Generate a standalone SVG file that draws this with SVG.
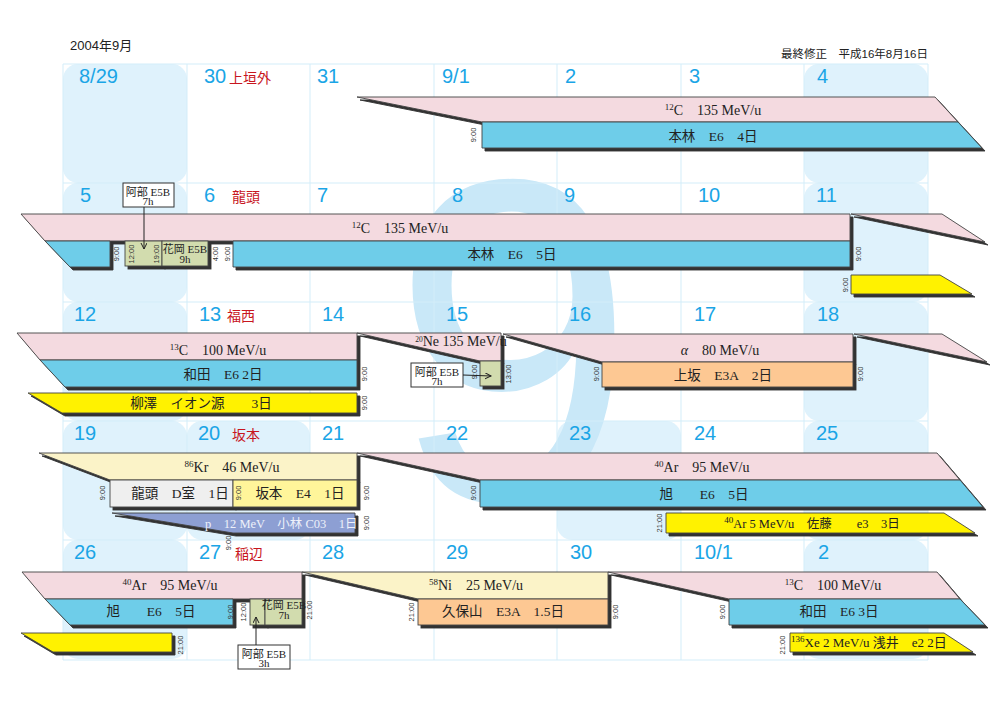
<svg xmlns="http://www.w3.org/2000/svg" width="1000" height="707" viewBox="0 0 1000 707">
<defs>
<filter id="sh" filterUnits="userSpaceOnUse" x="0" y="0" width="1000" height="707">
<feOffset in="SourceAlpha" dx="2.5" dy="2.5" result="o"/>
<feFlood flood-color="#333"/>
<feComposite in2="o" operator="in"/>
<feMerge><feMergeNode/><feMergeNode in="SourceGraphic"/></feMerge>
</filter>
<marker id="ah" markerWidth="8" markerHeight="8" refX="6" refY="3" orient="auto" markerUnits="userSpaceOnUse">
<path d="M0,0 L6,3 L0,6" fill="none" stroke="#222" stroke-width="1"/>
</marker>
</defs>
<style>
.wk{fill:#dff2fc}
.grid line{stroke:#d3edf9;stroke-width:1}
.day{font-family:"Liberation Sans","DejaVu Sans",sans-serif;font-size:20px;fill:#1aa5e6}
.nm{font-family:"Noto Sans CJK JP",sans-serif;font-size:14px;fill:#c8161e}
.hd{font-family:"Liberation Sans","Noto Sans CJK JP",sans-serif;fill:#222}
.s polygon,.s rect{stroke:#444;stroke-width:0.9}
.pk{fill:#f4dae0}
.bl{fill:#6ecde9}
.or{fill:#fdc893}
.ye{fill:#fff200}
.py{fill:#fbf3c8}
.ly{fill:#fff59a}
.gy{fill:#efefef}
.gr{fill:#d2dcae}
.pp{fill:#8d9fd3}
.bt{font-family:"Liberation Serif","Noto Sans CJK JP",serif;font-size:14px;fill:#222;text-anchor:middle}
.et{font-family:"Liberation Serif","Noto Sans CJK JP",serif;font-size:13.5px;fill:#222;text-anchor:middle}
.sm{font-family:"Liberation Serif","Noto Sans CJK JP",serif;font-size:11px;fill:#222;text-anchor:middle}
.tm{font-family:"Liberation Sans",sans-serif;font-size:7.5px;fill:#333;text-anchor:middle}
.cb{fill:#fff;stroke:#333;stroke-width:1}
.cn line{stroke:#222;stroke-width:1}
</style>
<rect width="1000" height="707" fill="#fff"/>
<g id="weekend-bg">
<rect class="wk" x="63" y="64" width="124" height="119" rx="15"/>
<rect class="wk" x="804" y="64" width="124" height="119" rx="15"/>
<rect class="wk" x="63" y="183" width="124" height="119" rx="15"/>
<rect class="wk" x="804" y="183" width="124" height="119" rx="15"/>
<rect class="wk" x="63" y="302" width="124" height="119" rx="15"/>
<rect class="wk" x="804" y="302" width="124" height="119" rx="15"/>
<rect class="wk" x="63" y="421" width="124" height="119" rx="15"/>
<rect class="wk" x="187" y="421" width="123" height="119" rx="15"/>
<rect class="wk" x="557" y="421" width="124" height="119" rx="15"/>
<rect class="wk" x="804" y="421" width="124" height="119" rx="15"/>
<rect class="wk" x="63" y="540" width="124" height="119" rx="15"/>
<rect class="wk" x="804" y="540" width="124" height="119" rx="15"/>
</g>
<text id="month-watermark" transform="translate(392,500) scale(0.95,1)" x="0" y="0" font-family="Liberation Sans,sans-serif" font-size="460" fill="#c9e8f8">9</text>
<g class="grid">
<line x1="63" y1="64" x2="63" y2="660"/><line x1="187" y1="64" x2="187" y2="660"/><line x1="310" y1="64" x2="310" y2="660"/><line x1="434" y1="64" x2="434" y2="660"/><line x1="557" y1="64" x2="557" y2="660"/><line x1="681" y1="64" x2="681" y2="660"/><line x1="804" y1="64" x2="804" y2="660"/><line x1="928" y1="64" x2="928" y2="660"/>
<line x1="63" y1="64" x2="928" y2="64"/><line x1="63" y1="183" x2="928" y2="183"/><line x1="63" y1="302" x2="928" y2="302"/><line x1="63" y1="421" x2="928" y2="421"/><line x1="63" y1="540" x2="928" y2="540"/><line x1="63" y1="660" x2="928" y2="660"/>
</g>
<g id="header">
<text class="hd" x="70" y="50" font-size="13">2004年9月</text>
<text class="hd" x="781" y="58" font-size="11.5">最終修正　平成16年8月16日</text>
</g>
<g id="days">
<text class="day" x="79" y="83">8/29</text><text class="day" x="204" y="83">30</text><text class="day" x="317" y="83">31</text><text class="day" x="442" y="83">9/1</text><text class="day" x="565" y="83">2</text><text class="day" x="689" y="83">3</text><text class="day" x="817" y="83">4</text>
<text class="day" x="80" y="202">5</text><text class="day" x="204" y="202">6</text><text class="day" x="317" y="202">7</text><text class="day" x="452" y="202">8</text><text class="day" x="564" y="202">9</text><text class="day" x="698" y="202">10</text><text class="day" x="816" y="202">11</text>
<text class="day" x="74" y="321">12</text><text class="day" x="199" y="321">13</text><text class="day" x="322" y="321">14</text><text class="day" x="446" y="321">15</text><text class="day" x="569" y="321">16</text><text class="day" x="694" y="321">17</text><text class="day" x="817" y="321">18</text>
<text class="day" x="74" y="440">19</text><text class="day" x="198" y="440">20</text><text class="day" x="322" y="440">21</text><text class="day" x="446" y="440">22</text><text class="day" x="569" y="440">23</text><text class="day" x="694" y="440">24</text><text class="day" x="816" y="440">25</text>
<text class="day" x="74" y="559">26</text><text class="day" x="199" y="559">27</text><text class="day" x="322" y="559">28</text><text class="day" x="446" y="559">29</text><text class="day" x="570" y="559">30</text><text class="day" x="694" y="559">10/1</text><text class="day" x="818" y="559">2</text>
<text class="nm" x="229" y="83">上垣外</text>
<text class="nm" x="232" y="202">龍頭</text>
<text class="nm" x="227" y="321">福西</text>
<text class="nm" x="232" y="440">坂本</text>
<text class="nm" x="235" y="559">稲辺</text>
</g>

<g id="ev-c12-w1">
<g class="s" filter="url(#sh)">
<polygon class="pk" points="357,97 935,97 958,122 482,122"/>
<polygon class="bl" points="482,122 958,122 982,148 482,148"/>
</g>
<text class="bt" x="713" y="115"><tspan font-size="9" dy="-5">12</tspan><tspan dy="5">C</tspan>　135 MeV/u</text>
<text class="et" x="713" y="141">本林　E6　4日</text>
<text class="tm" transform="translate(473,135) rotate(-90)" dy="2.5">9:00</text>
</g>

<g id="ev-c12-w2">
<g class="s" filter="url(#sh)">
<polygon class="pk" points="21,214 850,214 850,241 45,241"/>
<polygon class="bl" points="45,241 110,241 110,267 70,267"/>
<rect class="gr" x="125" y="241" width="37" height="25"/>
<rect class="gr" x="162" y="241" width="46" height="25"/>
<polygon class="bl" points="233,241 850,241 850,267 233,267"/>
<polygon class="pk" points="851,214 942,214 985,242"/>
<polygon class="ye" points="851,275 940,275 972,294 851,294"/>
</g>
<text class="bt" x="400" y="233"><tspan font-size="9" dy="-5">12</tspan><tspan dy="5">C</tspan>　135 MeV/u</text>
<text class="et" x="512" y="259">本林　E6　5日</text>
<text class="sm" x="185" y="253">花岡 E5B</text>
<text class="sm" x="185" y="263" font-size="10">9h</text>
<text class="tm" transform="translate(116,254) rotate(-90)" dy="2.5">9:00</text>
<text class="tm" transform="translate(131,254) rotate(-90)" dy="2.5">12:00</text>
<text class="tm" transform="translate(156,254) rotate(-90)" dy="2.5">19:00</text>
<text class="tm" transform="translate(215,254) rotate(-90)" dy="2.5">4:00</text>
<text class="tm" transform="translate(227,254) rotate(-90)" dy="2.5">9:00</text>
<text class="tm" transform="translate(858,254) rotate(-90)" dy="2.5">9:00</text>
<text class="tm" transform="translate(845,285) rotate(-90)" dy="2.5">9:00</text>
</g>

<g id="ev-abe-w2">
<rect class="cb" x="123" y="183" width="51" height="24"/>
<text class="sm" x="148" y="196">阿部 E5B</text>
<text class="sm" x="148" y="205" font-size="10">7h</text>
</g>

<g id="ev-c13-w3">
<g class="s" filter="url(#sh)">
<polygon class="pk" points="17,333 357,333 357,360 40,360"/>
<polygon class="bl" points="40,360 357,360 357,387 65,387"/>
<polygon class="ye" points="28,393 357,393 357,413 62,413"/>
</g>
<text class="bt" x="218" y="355"><tspan font-size="9" dy="-5">13</tspan><tspan dy="5">C</tspan>　100 MeV/u</text>
<text class="et" x="223" y="379">和田　E6  2日</text>
<text class="et" x="201" y="408">柳澤　イオン源　　3日</text>
<text class="tm" transform="translate(364,374) rotate(-90)" dy="2.5">9:00</text>
<text class="tm" transform="translate(364,403) rotate(-90)" dy="2.5">9:00</text>
</g>

<g id="ev-ne20-w3">
<g class="s" filter="url(#sh)">
<polygon class="pk" points="357,333 501,333 501,361 480,361"/>
<rect class="gr" x="480" y="361" width="21" height="25"/>
</g>
<text class="bt" x="461" y="346" font-size="11"><tspan font-size="7.5" dy="-4">20</tspan><tspan dy="4">Ne</tspan>  135 MeV/u</text>
<text class="tm" transform="translate(474,372) rotate(-90)" dy="2.5">9:00</text>
<text class="tm" transform="translate(508,374) rotate(-90)" dy="2.5">13:00</text>
</g>

<g id="ev-abe-w3">
<rect class="cb" x="411" y="363" width="52" height="24"/>
<text class="sm" x="437" y="376">阿部 E5B</text>
<text class="sm" x="437" y="385" font-size="10">7h</text>
</g>

<g id="ev-alpha-w3">
<g class="s" filter="url(#sh)">
<polygon class="pk" points="503,334 853,334 853,362 602,362"/>
<rect class="or" x="602" y="362" width="251" height="25"/>
<polygon class="pk" points="854,334 942,334 987,362"/>
</g>
<text class="bt" x="720" y="355" font-size="17"><tspan font-style="italic">α</tspan>　80 MeV/u</text>
<text class="et" x="723" y="380">上坂　E3A　2日</text>
<text class="tm" transform="translate(596,374) rotate(-90)" dy="2.5">9:00</text>
<text class="tm" transform="translate(860,374) rotate(-90)" dy="2.5">9:00</text>
</g>

<g id="ev-kr86-w4">
<g class="s" filter="url(#sh)">
<polygon class="py" points="39,453 357,453 357,480 110,480"/>
<rect class="gy" x="110" y="480" width="123" height="27"/>
<rect class="ly" x="233" y="480" width="124" height="27"/>
</g>
<text class="bt" x="232" y="472"><tspan font-size="9" dy="-5">86</tspan><tspan dy="5">Kr</tspan>　46 MeV/u</text>
<text class="et" x="180" y="498">龍頭　D室　1日</text>
<text class="et" x="300" y="498">坂本　E4　1日</text>
<text class="tm" transform="translate(102,493) rotate(-90)" dy="2.5">9:00</text>
<text class="tm" transform="translate(238,493) rotate(-90)" dy="2.5">9:00</text>
<text class="tm" transform="translate(366,493) rotate(-90)" dy="2.5">9:00</text>
</g>

<g id="ev-p-w4">
<g class="s" filter="url(#sh)">
<polygon class="pp" points="112,513 355,513 355,533 233,533"/>
</g>
<text class="et" x="205" y="528" style="text-anchor:start;fill:#eef1fa;font-size:12.5px">p　12 MeV　小林 C03　1日</text>
<text class="tm" transform="translate(366,523) rotate(-90)" dy="2.5">9:00</text>
<text class="tm" transform="translate(228,543) rotate(-90)" dy="2.5">9:00</text>
</g>

<g id="ev-ar40-w4">
<g class="s" filter="url(#sh)">
<polygon class="pk" points="357,453 937,453 960,480 480,480"/>
<polygon class="bl" points="480,480 960,480 983,507 480,507"/>
<polygon class="ye" points="666,513 944,513 975,533 666,533"/>
</g>
<text class="bt" x="702" y="472"><tspan font-size="9" dy="-5">40</tspan><tspan dy="5">Ar</tspan>　95 MeV/u</text>
<text class="et" x="704" y="499">旭　　E6　5日</text>
<text class="et" x="812" y="528" style="font-size:12.5px"><tspan font-size="9" dy="-5">40</tspan><tspan dy="5">Ar</tspan>  5 MeV/u　佐藤　　e3　3日</text>
<text class="tm" transform="translate(473,493) rotate(-90)" dy="2.5">9:00</text>
<text class="tm" transform="translate(659,523) rotate(-90)" dy="2.5">21:00</text>
</g>

<g id="ev-ar40-w5">
<g class="s" filter="url(#sh)">
<polygon class="pk" points="22,572 302,572 302,599 45,599"/>
<polygon class="bl" points="45,599 233,599 233,625 70,625"/>
<rect class="gr" x="250" y="599" width="15" height="26"/>
<rect class="gr" x="265" y="599" width="37" height="26"/>
<polygon class="ye" points="21,633 172,633 172,652 53,652"/>
</g>
<text class="bt" x="170" y="590"><tspan font-size="9" dy="-5">40</tspan><tspan dy="5">Ar</tspan>　95 MeV/u</text>
<text class="et" x="151" y="616">旭　　E6　5日</text>
<text class="sm" x="284" y="609" font-size="9.5">花岡 E5B</text>
<text class="sm" x="284" y="619" font-size="9">7h</text>
<text class="tm" transform="translate(230,612) rotate(-90)" dy="2.5">9:00</text>
<text class="tm" transform="translate(243,612) rotate(-90)" dy="2.5">12:00</text>
<text class="tm" transform="translate(309,610) rotate(-90)" dy="2.5">21:00</text>
<text class="tm" transform="translate(180,645) rotate(-90)" dy="2.5">21:00</text>
</g>

<g id="ev-abe-w5">
<rect class="cb" x="238" y="645" width="52" height="24"/>
<text class="sm" x="264" y="658">阿部 E5B</text>
<text class="sm" x="264" y="667" font-size="10">3h</text>
</g>

<g id="ev-ni58-w5">
<g class="s" filter="url(#sh)">
<polygon class="py" points="302,572 608,572 608,599 418,599"/>
<rect class="or" x="418" y="599" width="190" height="26"/>
</g>
<text class="bt" x="476" y="590"><tspan font-size="9" dy="-5">58</tspan><tspan dy="5">Ni</tspan>　25 MeV/u</text>
<text class="et" x="503" y="616">久保山　E3A　1.5日</text>
<text class="tm" transform="translate(411,612) rotate(-90)" dy="2.5">21:00</text>
<text class="tm" transform="translate(615,612) rotate(-90)" dy="2.5">9:00</text>
</g>

<g id="ev-c13-w5">
<g class="s" filter="url(#sh)">
<polygon class="pk" points="608,572 937,572 960,599 729,599"/>
<polygon class="bl" points="729,599 960,599 985,625 729,625"/>
<polygon class="ye" points="790,633 944,633 973,652 790,652"/>
</g>
<text class="bt" x="833" y="590"><tspan font-size="9" dy="-5">13</tspan><tspan dy="5">C</tspan>　100 MeV/u</text>
<text class="et" x="839" y="616">和田　E6  3日</text>
<text class="et" x="791" y="647" style="text-anchor:start;font-size:13px"><tspan font-size="9" dy="-5">136</tspan><tspan dy="5">Xe</tspan> 2 MeV/u 浅井　e2 2日</text>
<text class="tm" transform="translate(722,612) rotate(-90)" dy="2.5">9:00</text>
<text class="tm" transform="translate(782,645) rotate(-90)" dy="2.5">21:00</text>
</g>

<g id="connectors" class="cn">
<line x1="144" y1="207" x2="144" y2="249" marker-end="url(#ah)"/>
<line x1="463" y1="375" x2="491" y2="376" marker-end="url(#ah)"/>
<line x1="256" y1="645" x2="256" y2="617" marker-end="url(#ah)"/>
</g>
</svg>
